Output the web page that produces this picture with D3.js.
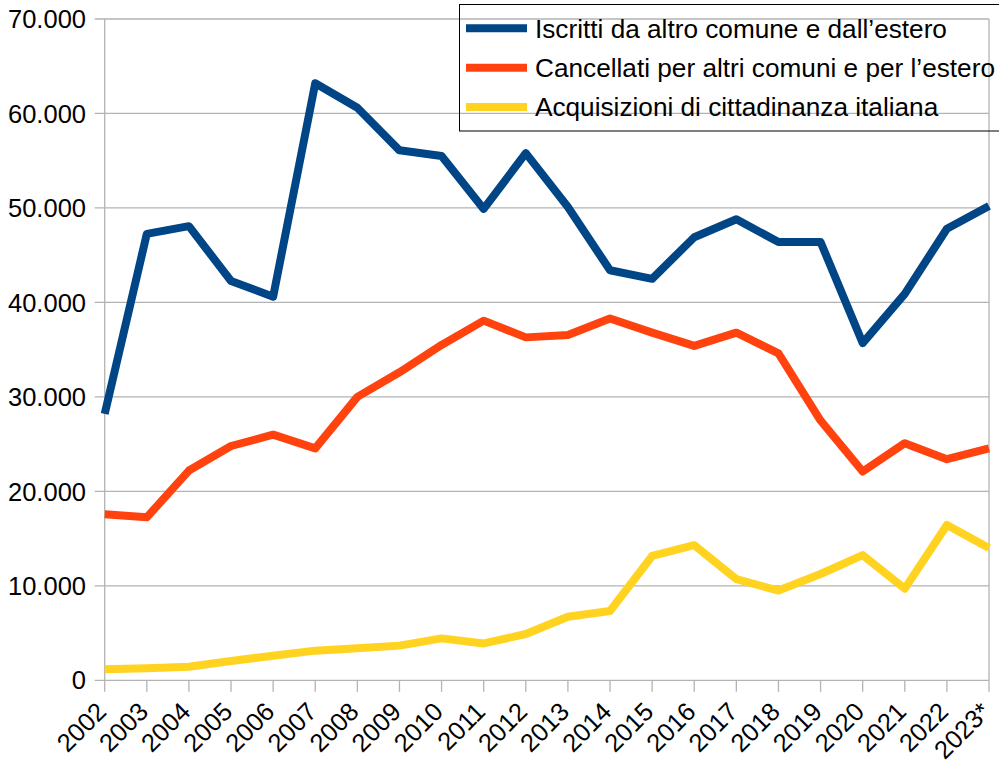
<!DOCTYPE html>
<html><head><meta charset="utf-8">
<script src="https://cdn.jsdelivr.net/npm/d3@7"></script>
<style>html,body{margin:0;padding:0;background:#fff}svg{display:block}</style>
</head><body>
<svg id="c" width="999" height="763"></svg>
<script>
const years = ["2002","2003","2004","2005","2006","2007","2008","2009","2010","2011","2012","2013","2014","2015","2016","2017","2018","2019","2020","2021","2022","2023*"];
const iscritti = [28200,47250,48070,42270,40600,63200,60600,56100,55500,49900,55800,50100,43400,42500,46900,48800,46400,46400,35700,40900,47800,50200];
const cancellati = [17570,17250,22200,24800,26000,24550,30000,32600,35500,38070,36300,36550,38300,36800,35400,36800,34600,27500,22100,25100,23400,24550];
const acquisizioni = [1160,1270,1440,2040,2600,3140,3390,3670,4440,3900,4900,6730,7330,13160,14300,10700,9500,11250,13260,9700,16440,14000];
const seriesNames = ["Iscritti da altro comune e dall\u2019estero","Cancellati per altri comuni e per l\u2019estero","Acquisizioni di cittadinanza italiana"];
const colors = ["#004586","#ff420e","#ffd320"];
const yTicks = [0,10000,20000,30000,40000,50000,60000,70000];

const svg = d3.select("#c");
const L = 104.7, R = 989, T = 19, B = 680.3;
const x = d3.scalePoint().domain(years).range([L, R]);
const y = d3.scaleLinear().domain([0,70000]).range([B, T]);
const font = "'Liberation Sans', Arial, sans-serif";
const fmt = v => d3.format(",")(v).replace(/,/g, ".");

// gridlines
svg.append("g").selectAll("line").data(yTicks).join("line")
  .attr("x1", L - 10).attr("x2", R)
  .attr("y1", d => y(d)).attr("y2", d => y(d))
  .attr("stroke", "#b3b3b3").attr("stroke-width", 1.3);
// left axis & right border
svg.append("line").attr("x1", L).attr("x2", L).attr("y1", T).attr("y2", B).attr("stroke", "#b3b3b3").attr("stroke-width", 1.3);
svg.append("line").attr("x1", R).attr("x2", R).attr("y1", T).attr("y2", B).attr("stroke", "#b3b3b3").attr("stroke-width", 1.3);
// x ticks
svg.append("g").selectAll("line").data(years).join("line")
  .attr("x1", d => x(d)).attr("x2", d => x(d))
  .attr("y1", B).attr("y2", B + 11.5)
  .attr("stroke", "#b3b3b3").attr("stroke-width", 1.3);

// y labels
svg.append("g").selectAll("text").data(yTicks).join("text")
  .attr("x", 86).attr("y", d => y(d))
  .attr("text-anchor", "end").attr("dy", "0.36em")
  .attr("font-family", font).attr("font-size", 25.5).attr("fill", "#000")
  .text(d => fmt(d));

// x labels
svg.append("g").selectAll("text").data(years).join("text")
  .attr("transform", d => `translate(${x(d) + 3},${B + 33}) rotate(-45)`)
  .attr("text-anchor", "end")
  .attr("font-family", font).attr("font-size", 25.5).attr("fill", "#000")
  .text(d => d);

// lines
const data = [iscritti, cancellati, acquisizioni];
const line = d3.line().x((d, i) => x(years[i])).y(d => y(d));
data.forEach((s, k) => {
  svg.append("path").datum(s).attr("d", line)
    .attr("fill", "none").attr("stroke", colors[k]).attr("stroke-width", 8)
    .attr("stroke-linejoin", "round").attr("stroke-linecap", "butt");
});

// legend
const lg = svg.append("g");
lg.append("rect").attr("x", 459.5).attr("y", 4.5).attr("width", 545).attr("height", 126.5)
  .attr("fill", "none").attr("stroke", "#000").attr("stroke-width", 1);
const ly = [28.3, 67.7, 107];
seriesNames.forEach((n, k) => {
  lg.append("line").attr("x1", 466).attr("x2", 527).attr("y1", ly[k]).attr("y2", ly[k])
    .attr("stroke", colors[k]).attr("stroke-width", 8);
  lg.append("text").attr("x", 535).attr("y", ly[k]).attr("dy", "0.36em")
    .attr("font-family", font).attr("font-size", 26.2).attr("fill", "#000").text(n);
});
</script>
</body></html>
